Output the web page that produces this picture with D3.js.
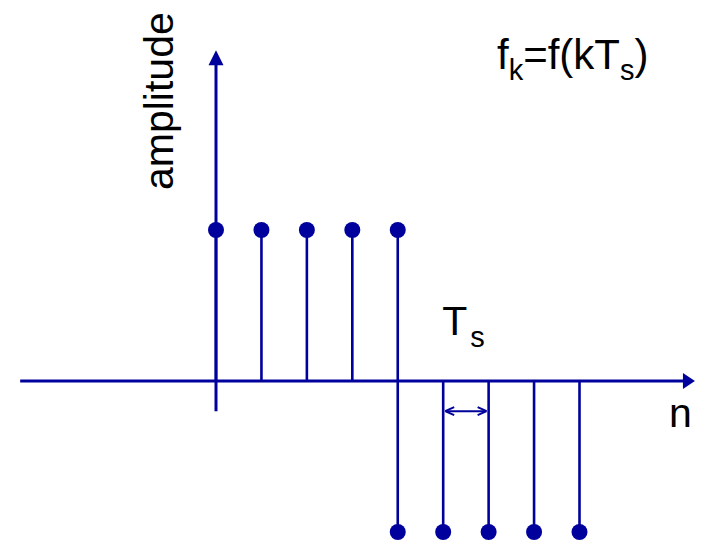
<!DOCTYPE html>
<html>
<head>
<meta charset="utf-8">
<script src="https://cdn.jsdelivr.net/npm/d3@7"></script>
<style>
  html, body { margin: 0; padding: 0; background: #fff; }
  svg { display: block; }
  text { font-family: "Liberation Sans", Arial, sans-serif; fill: #000; }
</style>
</head>
<body>
<svg id="chart" width="705" height="541"></svg>
<script>
// Sample indices and sample values of a step that flips sign at n = 4
const sampleIndex = [0, 1, 2, 3, 4, 4, 5, 6, 7, 8];
const sampleValue = [1, 1, 1, 1, 1, -1, -1, -1, -1, -1];

// Axis extents, in data units
const xAxisExtent = [-4.31, 10.54];
const yAxisExtent = [-0.2, 2.19];

// Period marker sits between these two samples, just below the axis
const periodFrom = 5, periodTo = 6, periodLevel = -0.2;

const ink = "#00009c";
const svg = d3.select("#chart");

const x = d3.scaleLinear().domain([0, 8]).range([216, 579.5]);
const y = d3.scaleLinear().domain([-1, 1]).range([532, 230]);

// horizontal axis with arrow head
const hx0 = x(xAxisExtent[0]), hx1 = x(xAxisExtent[1]), hy = y(0);
svg.append("line")
  .attr("x1", hx0).attr("x2", hx1 - 8).attr("y1", hy).attr("y2", hy)
  .attr("stroke", ink).attr("stroke-width", 3);
svg.append("path")
  .attr("d", `M${hx1},${hy} L${hx1 - 12},${hy - 8} L${hx1 - 12},${hy + 8} Z`)
  .attr("fill", ink);

// vertical axis with arrow head
const vx = x(0), vy0 = y(yAxisExtent[0]), vy1 = y(yAxisExtent[1]);
svg.append("line")
  .attr("x1", vx).attr("x2", vx).attr("y1", vy0).attr("y2", vy1 + 8)
  .attr("stroke", ink).attr("stroke-width", 3);
svg.append("path")
  .attr("d", `M${vx},${vy1} L${vx - 7.5},${vy1 + 15} L${vx + 7.5},${vy1 + 15} Z`)
  .attr("fill", ink);

// stems
const samples = sampleIndex.map((k, i) => ({ k, v: sampleValue[i] }));
svg.append("g").selectAll("line").data(samples).join("line")
  .attr("x1", d => x(d.k)).attr("x2", d => x(d.k))
  .attr("y1", y(0)).attr("y2", d => y(d.v))
  .attr("stroke", ink).attr("stroke-width", 2.6);

// stem heads
svg.append("g").selectAll("circle").data(samples).join("circle")
  .attr("cx", d => x(d.k)).attr("cy", d => y(d.v)).attr("r", 8)
  .attr("fill", ink);

// sampling period marker (double-headed arrow)
const px0 = x(periodFrom), px1 = x(periodTo), py = y(periodLevel);
svg.append("line")
  .attr("x1", px0 + 3).attr("x2", px1 - 3).attr("y1", py).attr("y2", py)
  .attr("stroke", ink).attr("stroke-width", 2);
svg.append("path")
  .attr("d", `M${px0 + 2},${py} L${px0 + 11},${py - 4} M${px0 + 2},${py} L${px0 + 11},${py + 4}`)
  .attr("stroke", ink).attr("stroke-width", 2).attr("fill", "none");
svg.append("path")
  .attr("d", `M${px1 - 2},${py} L${px1 - 11},${py - 4} M${px1 - 2},${py} L${px1 - 11},${py + 4}`)
  .attr("stroke", ink).attr("stroke-width", 2).attr("fill", "none");

// labels
svg.append("text")
  .attr("transform", "translate(173,190) rotate(-90)")
  .attr("font-size", 41).text("amplitude");

svg.append("text").attr("x", 669).attr("y", 427).attr("font-size", 41).text("n");

const ts = svg.append("text").attr("x", x(periodFrom) - 1).attr("y", 335).attr("font-size", 41);
ts.append("tspan").text("T");
ts.append("tspan").attr("font-size", 29).attr("dy", 12).attr("dx", 3).text("s");

const f = svg.append("text").attr("x", 497).attr("y", 69).attr("font-size", 42);
f.append("tspan").text("f");
f.append("tspan").attr("font-size", 29).attr("dy", 11).text("k");
f.append("tspan").attr("dy", -11).text("=f(kT");
f.append("tspan").attr("font-size", 29).attr("dy", 11).text("s");
f.append("tspan").attr("dy", -11).text(")");
</script>
</body>
</html>
